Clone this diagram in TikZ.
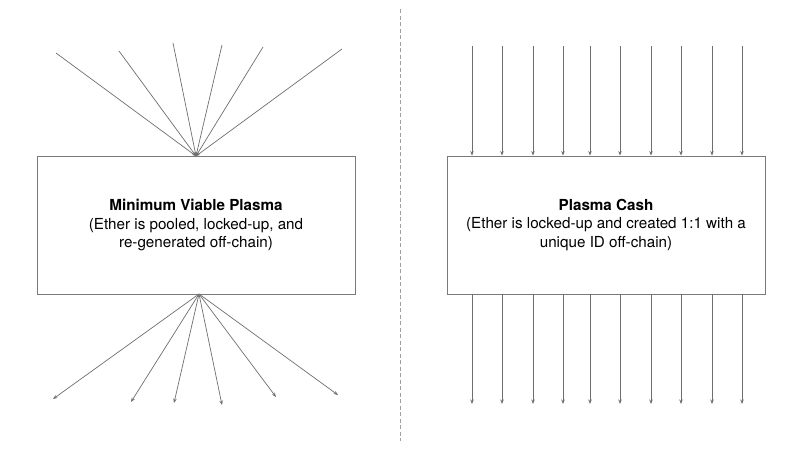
\documentclass[tikz,border=0pt]{standalone}
\usepackage{fontspec}
\setmainfont{TeX Gyre Heros}
\usetikzlibrary{arrows.meta,calc}
\definecolor{linegray}{HTML}{6E6E6E}
\definecolor{boxgray}{HTML}{7A7A7A}
\definecolor{divgray}{HTML}{A0A0A0}
\begin{document}
\begin{tikzpicture}[x=1pt,y=-1pt,
  plainline/.style={draw=linegray,line width=0.7pt},
  arr/.style={draw=linegray,line width=0.7pt,-{Stealth[length=4.5pt,width=3.5pt]}},
  inarr/.style={draw=linegray,line width=0.7pt,-{Stealth[length=4pt,width=3pt]}},
  plasmabox/.style={draw=boxgray,line width=0.8pt,rectangle,minimum width=318pt,minimum height=138pt,
    align=center,font=\fontsize{15.2}{18.5}\selectfont,inner sep=0pt},
  divider/.style={draw=divgray,line width=0.8pt,dash pattern=on 4pt off 2.5pt}]
\useasboundingbox (0,0) rectangle (800,450);
% divider
\coordinate (d1) at (400.5,9);
\coordinate (d2) at (400.5,441);
\draw[divider] (d1) -- (d2);
% boxes
\node[plasmabox] (L) at (196,225) {\textbf{Minimum Viable Plasma}\\(Ether is pooled, locked-up, and\\re-generated off-chain)};
\node[plasmabox] (R) at (606,225) {\textbf{Plasma Cash}\\(Ether is locked-up and created 1:1 with a\\unique ID off-chain)};
% left fan in
\coordinate (apexT) at (196,156);
\foreach \n/\x/\y in {a/56/53, b/119/51, c/173/43, d/222/45, e/263/47, f/342/49}{
  \coordinate (lt\n) at (\x,\y);
  \draw[inarr] (lt\n) -- (apexT);
}
% left fan out
\coordinate (apexB) at (199,294);
\foreach \n/\x/\y in {a/53/399, b/131/402, c/174/403, d/222/405, e/276/397, f/338/395}{
  \coordinate (lb\n) at (\x,\y);
  \draw[arr] (apexB) -- (lb\n);
}
% right parallel arrows
\foreach \i/\x in {1/472,2/502,3/533,4/563,5/590,6/620,7/651,8/681,9/712,10/742}{
  \coordinate (rt\i) at (\x,46);
  \coordinate (rb\i) at (\x,404);
  \draw[arr] (rt\i) -- (rt\i |- R.north);
  \draw[arr] (rt\i |- R.south) -- (rb\i);
}
\end{tikzpicture}
\end{document}
